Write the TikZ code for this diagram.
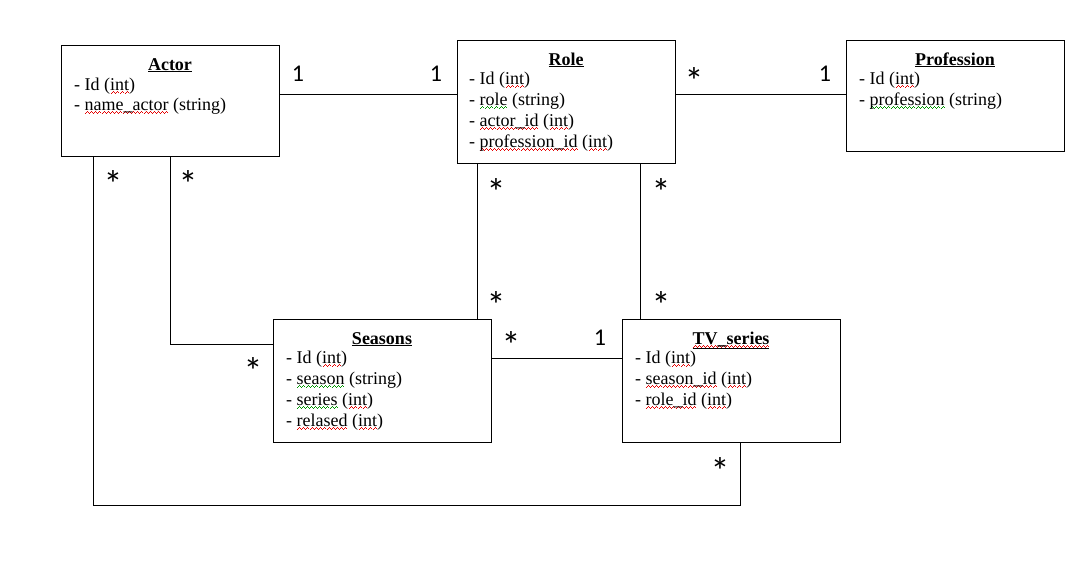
\documentclass[tikz,border=0pt]{standalone}
\usepackage{fontspec}
\setmainfont{Liberation Serif}
\newfontfamily\calfont{Carlito}
\definecolor{spred}{RGB}{230,0,0}
\definecolor{spgreen}{RGB}{0,150,0}
\newcommand\wavebox{\hbox{\rule[-3.4pt]{1pt}{0.8pt}\rule[-2.8pt]{1pt}{0.8pt}\rule[-2.2pt]{1pt}{0.8pt}\rule[-2.8pt]{1pt}{0.8pt}}}
\newcommand\wavedword[2]{{\leavevmode\setbox0\hbox{#2}\rlap{\color{#1}\hbox to \wd0{\xleaders\wavebox\hfill}}\box0}}
\newcommand\rw[1]{\wavedword{spred}{#1}}
\newcommand\gw[1]{\wavedword{spgreen}{#1}}
\begin{document}
\begin{tikzpicture}[x=1pt,y=-1pt,
  entity/.style={draw,line width=1pt,anchor=north west,inner sep=0pt},
  ttl/.style={anchor=base,inner sep=0pt,font=\fontsize{18}{21}\selectfont\bfseries},
  attr/.style={anchor=base west,inner sep=0pt,font=\fontsize{18}{21}\selectfont},
  mult/.style={inner sep=0pt,font=\calfont\fontsize{24}{26}\selectfont},
  star/.style={inner sep=0pt,yshift=-7pt,font=\calfont\fontsize{38}{40}\selectfont},
  conn/.style={line width=1pt}]
\useasboundingbox (0,0) rectangle (1082,560);
\fill[white] (0,0) rectangle (1082,560);

% Actor
\node[entity,minimum width=218pt,minimum height=111pt] (actor) at (61,45) {};
\node[ttl] (actorT) at (170,70) {\underline{Actor}};
\node[attr] (actorA1) at (74,90) {- Id (\rw{int})};
\node[attr] (actorA2) at (74,110) {- \rw{name\_actor} (string)};

% Role
\node[entity,minimum width=218pt,minimum height=123pt] (role) at (457,40) {};
\node[ttl] (roleT) at (566,65) {\underline{Role}};
\node[attr] (roleA1) at (469,84) {- Id (\rw{int})};
\node[attr] (roleA2) at (469,105) {- \gw{role} (string)};
\node[attr] (roleA3) at (469,126) {- \rw{actor\_id} (\rw{int})};
\node[attr] (roleA4) at (469,147) {- \rw{profession\_id} (\rw{int})};

% Profession
\node[entity,minimum width=218pt,minimum height=111pt] (prof) at (846,40) {};
\node[ttl] (profT) at (955,65) {\underline{Profession}};
\node[attr] (profA1) at (859,84) {- Id (\rw{int})};
\node[attr] (profA2) at (859,105) {- \gw{profession} (string)};

% Seasons
\node[entity,minimum width=218pt,minimum height=123pt] (seas) at (273,319) {};
\node[ttl] (seasT) at (382,344) {\underline{Seasons}};
\node[attr] (seasA1) at (286,363) {- Id (\rw{int})};
\node[attr] (seasA2) at (286,384) {- \gw{season} (string)};
\node[attr] (seasA3) at (286,405) {- \gw{series} (\rw{int})};
\node[attr] (seasA4) at (286,426) {- \rw{relased} (\rw{int})};

% TV series
\node[entity,minimum width=218pt,minimum height=123pt] (tv) at (622,319) {};
\node[ttl] (tvT) at (731,344) {\rw{\underline{TV\_series}}};
\node[attr] (tvA1) at (635,363) {- Id (\rw{int})};
\node[attr] (tvA2) at (635,384) {- \rw{season\_id} (\rw{int})};
\node[attr] (tvA3) at (635,405) {- \rw{role\_id} (\rw{int})};

% connectors
\coordinate (c1) at (170,344);
\coordinate (c2) at (93,505);
\coordinate (c3) at (740,505);
\draw[conn] (actor.east |- 0,94) -- (role.west |- 0,94);
\draw[conn] (role.east |- 0,94) -- (prof.west |- 0,94);
\draw[conn] (actor.south -| c1) -- (c1) -- (seas.west |- c1);
\draw[conn] (actor.south -| c2) -- (c2) -- (c3) -- (tv.south -| c3);
\draw[conn] (role.south -| 477,0) -- (seas.north -| 477,0);
\draw[conn] (role.south -| 640,0) -- (tv.north -| 640,0);
\draw[conn] (seas.east |- 0,358) -- (tv.west |- 0,358);

% multiplicities
\node[mult] (m1) at (298,74) {1};
\node[mult] (m2) at (436,74) {1};
\node[star] (m3) at (694,74) {*};
\node[mult] (m4) at (825,74) {1};
\node[star] (m5) at (113,177) {*};
\node[star] (m6) at (188,177) {*};
\node[star] (m7) at (496,185) {*};
\node[star] (m8) at (661,185) {*};
\node[star] (m9) at (496,298) {*};
\node[star] (m10) at (661,298) {*};
\node[star] (m11) at (253,364) {*};
\node[star] (m12) at (511,338) {*};
\node[mult] (m13) at (600,338) {1};
\node[star] (m14) at (720,464) {*};
\end{tikzpicture}
\end{document}
